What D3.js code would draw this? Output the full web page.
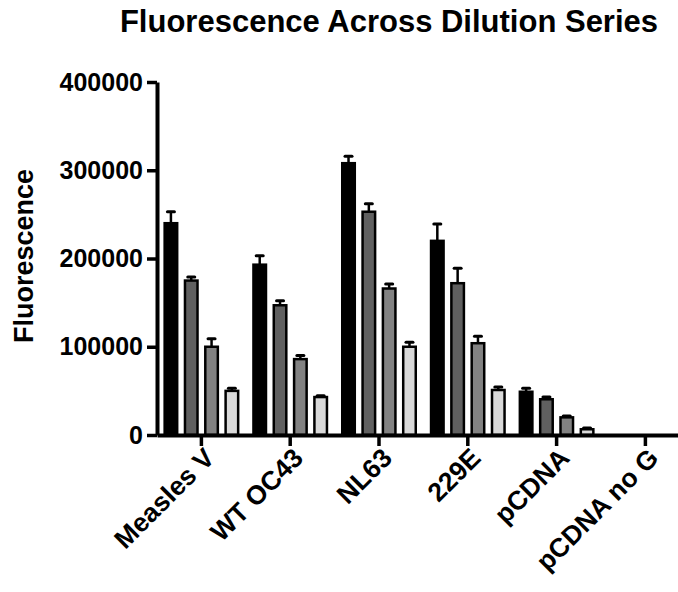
<!DOCTYPE html>
<html>
<head>
<meta charset="utf-8">
<script src="https://cdn.jsdelivr.net/npm/d3@7"></script>
<style>
  body { margin: 0; background: #fff; }
  svg text { font-family: "Liberation Sans", Arial, sans-serif; font-weight: bold; fill: #000; }
</style>
</head>
<body>
<div id="canvas"></div>
<script>
"use strict"

/* Data */
let categories = ["Measles V", "WT OC43", "NL63", "229E", "pCDNA", "pCDNA no G"];
let dilutions = ["d1", "d2", "d3", "d4"];
let dilutionColors = ["#000000", "#606060", "#828282", "#d9d9d9"];

// mean fluorescence, one array per dilution (same order as categories)
let meanD1 = [240000, 193000, 308000, 220000, 49000, 0];
let meanD2 = [175000, 147000, 253000, 172000, 40500, 0];
let meanD3 = [100000, 86000, 166000, 104000, 20000, 0];
let meanD4 = [50000, 43000, 100000, 51000, 6500, 0];

// error (upper bar only)
let errD1 = [13000, 10000, 8000, 19000, 4000, 0];
let errD2 = [4000, 5000, 9000, 17000, 2500, 0];
let errD3 = [9000, 4000, 5000, 8000, 1500, 0];
let errD4 = [3000, 1500, 5000, 3500, 1500, 0];

let yTicks = [0, 100000, 200000, 300000, 400000];

/* Drawing config */
let svgWidth = 678;
let svgHeight = 592;
let axisX = 157;
let axisY = 435;

let means = [meanD1, meanD2, meanD3, meanD4];
let errs = [errD1, errD2, errD3, errD4];

let dataset = [];
categories.forEach((c, i) => {
    dilutions.forEach((d, j) => {
        dataset.push({ cat: c, dil: d, value: means[j][i], err: errs[j][i] });
    });
});

let svg = d3.select("#canvas")
    .append("svg")
    .attr("width", svgWidth)
    .attr("height", svgHeight);

/* Scales */
let xScale = d3.scaleBand()
    .domain(categories)
    .range([axisX, axisX + 6 * 88.8])
    .padding(0);

let innerScale = d3.scaleBand()
    .domain(dilutions)
    .range([-38, 38])
    .paddingInner(0.26)
    .paddingOuter(0);

let yScale = d3.scaleLinear()
    .domain([0, 400000])
    .range([axisY, 82]);

let colorScale = d3.scaleOrdinal()
    .domain(dilutions)
    .range(dilutionColors);

let barStroke = 2.5;

// centre x of one bar
let barMid = d => xScale(d.cat) + xScale.bandwidth() / 2 + innerScale(d.dil) + innerScale.bandwidth() / 2;

/* Error bars (drawn first so the bar outline sits over them) */
let errG = svg.append("g");
errG.selectAll("line.err")
    .data(dataset.filter(d => d.err > 0))
    .join("line")
    .attr("class", "err")
    .attr("x1", barMid)
    .attr("x2", barMid)
    .attr("y1", d => yScale(d.value))
    .attr("y2", d => yScale(d.value + d.err))
    .attr("stroke", "#000")
    .attr("stroke-width", 2.5);

errG.selectAll("line.cap")
    .data(dataset.filter(d => d.err > 0))
    .join("line")
    .attr("class", "cap")
    .attr("x1", d => barMid(d) - 3.5)
    .attr("x2", d => barMid(d) + 3.5)
    .attr("y1", d => yScale(d.value + d.err))
    .attr("y2", d => yScale(d.value + d.err))
    .attr("stroke", "#000")
    .attr("stroke-width", 3)
    .attr("stroke-linecap", "round");

/* Bars */
svg.append("g")
    .selectAll("rect")
    .data(dataset.filter(d => d.value > 0))
    .join("rect")
    .attr("x", d => xScale(d.cat) + xScale.bandwidth() / 2 + innerScale(d.dil) + barStroke / 2)
    .attr("y", d => yScale(d.value))
    .attr("width", innerScale.bandwidth() - barStroke)
    .attr("height", d => axisY - yScale(d.value))
    .attr("fill", d => colorScale(d.dil))
    .attr("stroke", "#000")
    .attr("stroke-width", barStroke);

/* Axes */
let yAxis = svg.append("g")
    .attr("transform", "translate(" + axisX + ",0)")
    .call(d3.axisLeft(yScale)
        .tickValues(yTicks)
        .tickFormat(d3.format("d"))
        .tickSize(10)
        .tickSizeOuter(0)
        .tickPadding(4));

let xAxis = svg.append("g")
    .attr("transform", "translate(0," + axisY + ")")
    .call(d3.axisBottom(xScale)
        .tickSize(11)
        .tickSizeOuter(0));

yAxis.select(".domain").attr("stroke-width", 4);
xAxis.select(".domain").attr("stroke-width", 4);
svg.selectAll(".tick line").attr("stroke-width", 3.5);

yAxis.selectAll("text")
    .style("font-size", "25px")
    .style("font-family", "'Liberation Sans', Arial, sans-serif")
    .style("font-weight", "bold");

xAxis.selectAll("text")
    .style("font-size", "26.5px")
    .style("font-family", "'Liberation Sans', Arial, sans-serif")
    .style("font-weight", "bold")
    .attr("x", 0)
    .attr("y", 0)
    .attr("dy", "0.35em")
    .attr("text-anchor", "end")
    .attr("transform", "translate(8,18) rotate(-45)");

/* Title and y label */
svg.append("text")
    .attr("x", 389)
    .attr("y", 32)
    .attr("text-anchor", "middle")
    .style("font-size", "31px")
    .text("Fluorescence Across Dilution Series");

svg.append("text")
    .attr("transform", "translate(33,256) rotate(-90)")
    .attr("text-anchor", "middle")
    .style("font-size", "27px")
    .text("Fluorescence");
</script>
</body>
</html>
